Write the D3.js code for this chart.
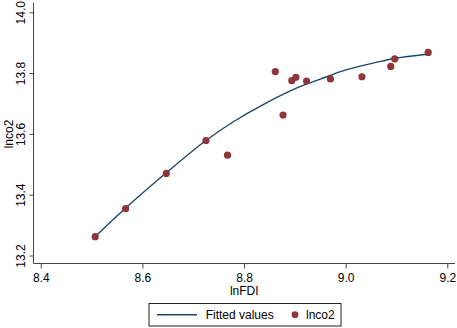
<!DOCTYPE html>
<html>
<head>
<meta charset="utf-8">
<script src="https://cdn.jsdelivr.net/npm/d3@7"></script>
<style>
  body { margin: 0; background: #fff; }
  text { font-family: "Liberation Sans", Arial, sans-serif; fill: #000; }
</style>
</head>
<body>
<div id="chart"></div>
<script>
// observed points
const lnFDI = [8.507, 8.567, 8.647, 8.725, 8.7675, 8.8615, 8.8767, 8.894, 8.902, 8.923, 8.970, 9.032, 9.0887, 9.0966, 9.1624];
const lnco2 = [13.262, 13.354, 13.470, 13.578, 13.530, 13.805, 13.662, 13.775, 13.786, 13.774, 13.781, 13.788, 13.822, 13.847, 13.868];

// fitted line
const fitX = [8.507, 8.567, 8.647, 8.7255, 8.779, 8.845, 8.911, 8.950, 8.996, 9.062, 9.098, 9.160];
const fitY = [13.262, 13.356, 13.472, 13.579, 13.640, 13.703, 13.756, 13.780, 13.808, 13.836, 13.849, 13.862];

const xTicks = [8.4, 8.6, 8.8, 9.0, 9.2];
const yTicks = [13.2, 13.4, 13.6, 13.8, 14.0];

const width = 457, height = 328;
const lineColor = "#1a476f", dotColor = "#90353b", axisColor = "#444";

const svg = d3.select("#chart").append("svg")
  .attr("width", width).attr("height", height);

const x = d3.scaleLinear().domain([8.4, 9.2]).range([40.8, 447.3]);
const y = d3.scaleLinear().domain([13.2, 14.0]).range([255.5, 12.3]);

const plot = {left: 33.5, right: 455, top: 3, bottom: 263.5};

// axis lines
svg.append("line")
  .attr("x1", plot.left).attr("x2", plot.left)
  .attr("y1", plot.top).attr("y2", plot.bottom)
  .attr("stroke", axisColor).attr("stroke-width", 1);
svg.append("line")
  .attr("x1", plot.left).attr("x2", plot.right)
  .attr("y1", plot.bottom).attr("y2", plot.bottom)
  .attr("stroke", axisColor).attr("stroke-width", 1);

const xAxis = svg.append("g")
  .attr("transform", `translate(0, ${plot.bottom})`)
  .call(d3.axisBottom(x).tickValues(xTicks).tickFormat(d3.format(".1f")).tickSize(5).tickPadding(5));
xAxis.select(".domain").remove();
xAxis.selectAll("line").attr("stroke", axisColor);
xAxis.selectAll("text").attr("font-size", "12px").attr("font-family", "Liberation Sans, Arial, sans-serif").attr("fill", "#000");

const yAxis = svg.append("g")
  .attr("transform", `translate(${plot.left}, 0)`)
  .call(d3.axisLeft(y).tickValues(yTicks).tickFormat(d3.format(".1f")).tickSize(4));
yAxis.select(".domain").remove();
yAxis.selectAll("line").attr("stroke", axisColor);
yAxis.selectAll("text")
  .attr("x", null).attr("dy", null)
  .attr("text-anchor", "middle")
  .attr("transform", "translate(-8.2,0) rotate(-90)")
  .attr("font-size", "12px").attr("font-family", "Liberation Sans, Arial, sans-serif").attr("fill", "#000");

// axis titles
svg.append("text")
  .attr("x", (plot.left + plot.right) / 2).attr("y", 294.5)
  .attr("text-anchor", "middle").attr("font-size", "12px")
  .text("lnFDI");
svg.append("text")
  .attr("transform", "translate(12.5,134) rotate(-90)")
  .attr("text-anchor", "middle").attr("font-size", "12px")
  .text("lnco2");

// fitted line
const fit = fitX.map((d, i) => ({x: d, y: fitY[i]}));
svg.append("path")
  .datum(fit)
  .attr("fill", "none")
  .attr("stroke", lineColor)
  .attr("stroke-width", 1.4)
  .attr("d", d3.line().x(d => x(d.x)).y(d => y(d.y)).curve(d3.curveCatmullRom.alpha(0.5)));

// points
const pts = lnFDI.map((d, i) => ({x: d, y: lnco2[i]}));
svg.append("g")
  .selectAll("circle")
  .data(pts)
  .join("circle")
    .attr("cx", d => x(d.x))
    .attr("cy", d => y(d.y))
    .attr("r", 3.6)
    .attr("fill", dotColor);

// legend
const lg = svg.append("g");
lg.append("rect")
  .attr("x", 149).attr("y", 303.5).attr("width", 192).attr("height", 22.5)
  .attr("fill", "#fff").attr("stroke", "#222").attr("stroke-width", 1);
lg.append("line")
  .attr("x1", 157).attr("x2", 197).attr("y1", 314.7).attr("y2", 314.7)
  .attr("stroke", lineColor).attr("stroke-width", 1.4);
lg.append("text")
  .attr("x", 205.7).attr("y", 319.2).attr("font-size", "12px")
  .text("Fitted values");
lg.append("circle")
  .attr("cx", 295).attr("cy", 314.7).attr("r", 3.4).attr("fill", dotColor);
lg.append("text")
  .attr("x", 306).attr("y", 319.2).attr("font-size", "12px")
  .text("lnco2");
</script>
</body>
</html>
